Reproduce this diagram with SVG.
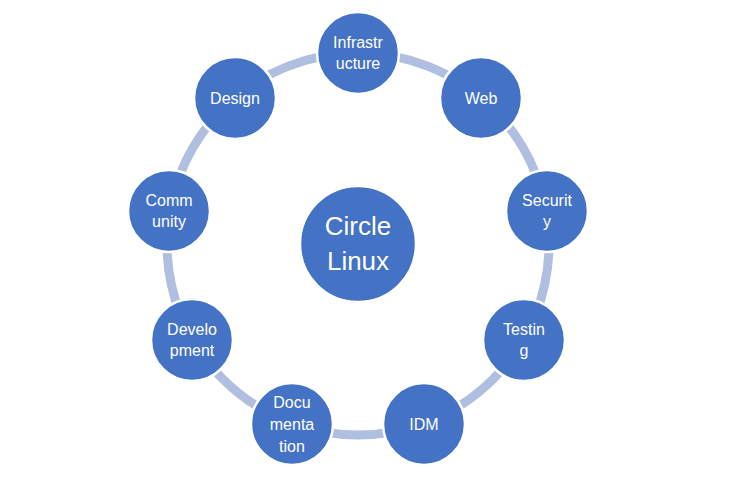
<svg xmlns="http://www.w3.org/2000/svg" width="733" height="481" viewBox="0 0 733 481">
<style>
.ring{fill:none;stroke:#B0BEDF;stroke-width:9}
.node{fill:#4472C4;stroke:#FFFFFF;stroke-width:2.5}
.lbl{font-family:"Liberation Sans","DejaVu Sans",sans-serif;font-size:16px;fill:#FFFFFF;text-anchor:middle}
.big{font-size:26px}
</style>
<rect width="733" height="481" fill="#FFFFFF"/>
<g id="connectors">
<circle class="ring" cx="358" cy="244" r="191"/>
</g>
<g id="center">
<circle class="node" cx="358" cy="244" r="58"/>
<text class="lbl big" x="358" y="235">Circle</text>
<text class="lbl big" x="358" y="270">Linux</text>
</g>
<g id="infrastructure">
<circle class="node" cx="358" cy="53" r="41"/>
<text class="lbl" x="358" y="48">Infrastr</text>
<text class="lbl" x="358" y="69">ucture</text>
</g>
<g id="web">
<circle class="node" cx="481" cy="98" r="41"/>
<text class="lbl" x="481" y="104">Web</text>
</g>
<g id="security">
<circle class="node" cx="547" cy="211" r="41"/>
<text class="lbl" x="547" y="206">Securit</text>
<text class="lbl" x="547" y="227">y</text>
</g>
<g id="testing">
<circle class="node" cx="524" cy="340" r="41"/>
<text class="lbl" x="524" y="335">Testin</text>
<text class="lbl" x="524" y="356">g</text>
</g>
<g id="idm">
<circle class="node" cx="424" cy="424" r="41"/>
<text class="lbl" x="424" y="430">IDM</text>
</g>
<g id="documentation">
<circle class="node" cx="292" cy="424" r="41"/>
<text class="lbl" x="292" y="408">Docu</text>
<text class="lbl" x="292" y="430">menta</text>
<text class="lbl" x="292" y="452">tion</text>
</g>
<g id="development">
<circle class="node" cx="192" cy="340" r="41"/>
<text class="lbl" x="192" y="335">Develo</text>
<text class="lbl" x="192" y="356">pment</text>
</g>
<g id="community">
<circle class="node" cx="169" cy="211" r="41"/>
<text class="lbl" x="169" y="206">Comm</text>
<text class="lbl" x="169" y="227">unity</text>
</g>
<g id="design">
<circle class="node" cx="235" cy="98" r="41"/>
<text class="lbl" x="235" y="104">Design</text>
</g>
</svg>
